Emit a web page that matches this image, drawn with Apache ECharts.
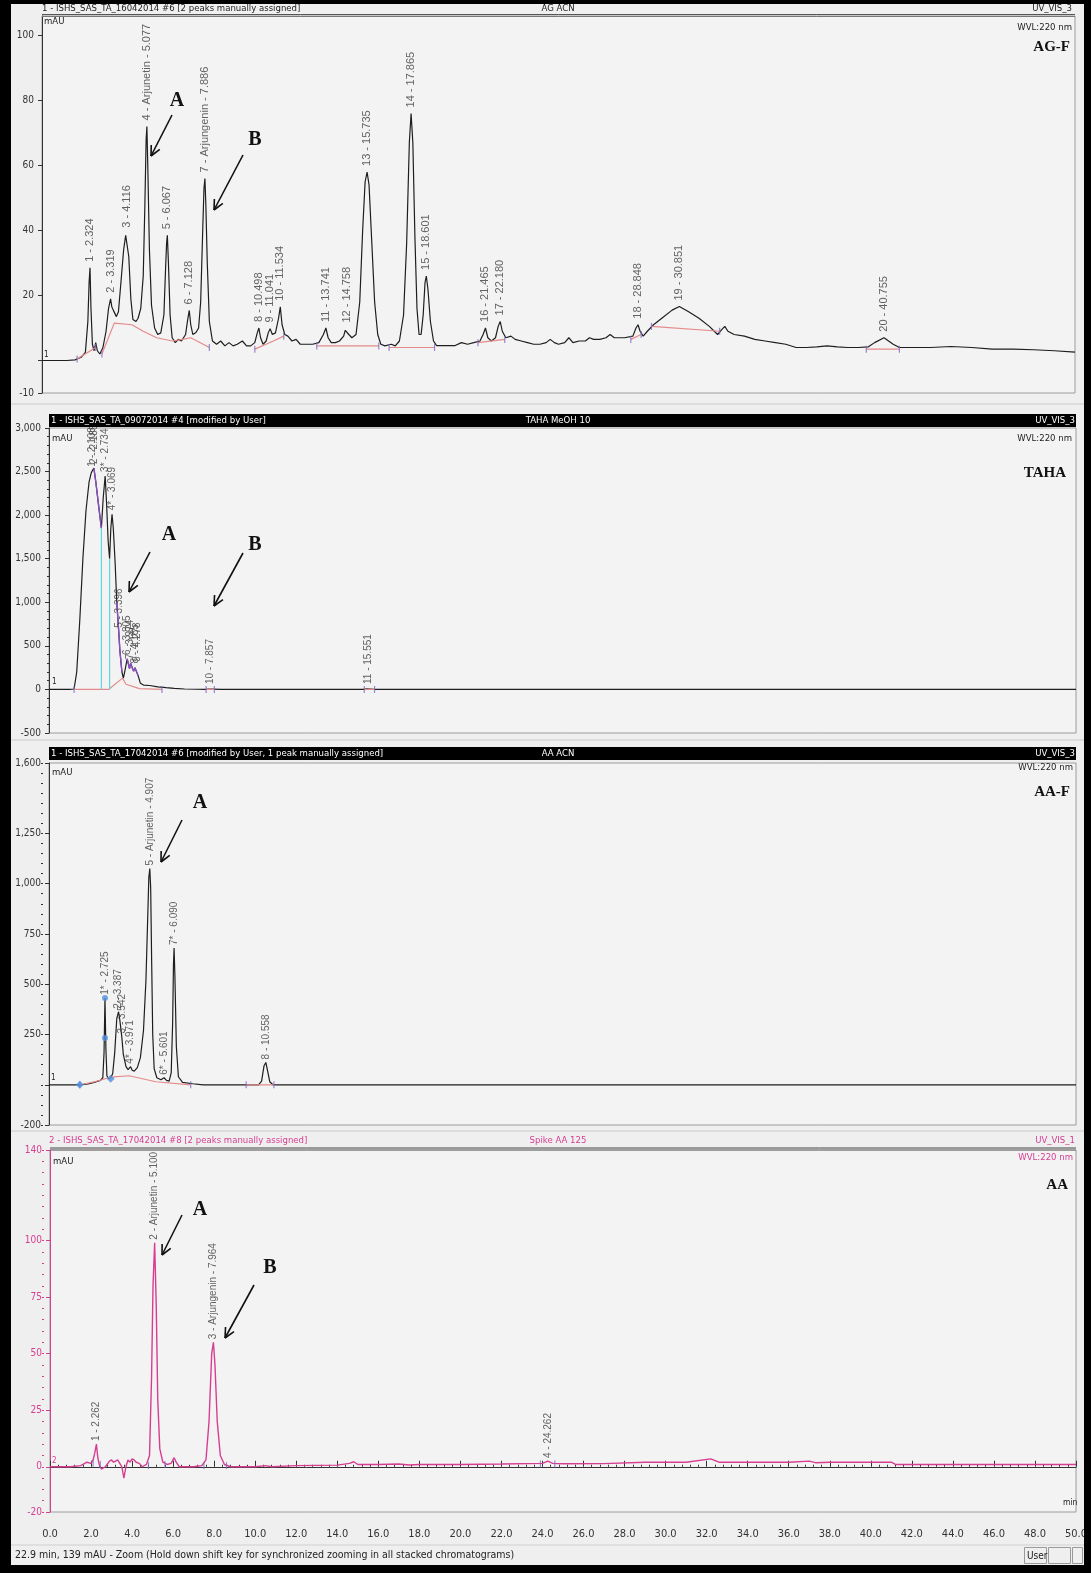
<!DOCTYPE html>
<html>
<head>
<meta charset="utf-8">
<script src="https://cdn.jsdelivr.net/npm/echarts@6/dist/echarts.min.js"></script>
<style>
  html, body { margin: 0; padding: 0; background: #ffffff; }
  #chart { width: 1091px; height: 1573px; }
</style>
</head>
<body>
<div id="chart"></div>
<script>
// ---------- AG-F (AG ACN) ----------
const agfPeakTimes   = [2.324, 3.319, 4.116, 5.077, 6.067, 7.128, 7.886, 10.498, 11.041, 11.534, 13.741, 14.758, 15.735, 17.865, 18.601, 21.465, 22.180, 28.848, 30.851, 40.755];
const agfPeakHeights = [28.5, 19, 39, 72, 38.5, 15.4, 56, 10, 9.8, 16.5, 10, 9.8, 58, 76, 26, 10, 12, 11, 16.6, 7];
const agfPeakNames   = ['1 - 2.324', '2 - 3.319', '3 - 4.116', '4 - Arjunetin - 5.077', '5 - 6.067', '6 - 7.128', '7 - Arjungenin - 7.886', '8 - 10.498', '9 - 11.041', '10 - 11.534', '11 - 13.741', '12 - 14.758', '13 - 15.735', '14 - 17.865', '15 - 18.601', '16 - 21.465', '17 - 22.180', '18 - 28.848', '19 - 30.851', '20 - 40.755'];
const agfTrace = [[0,0],[1.2,0],[1.6,0.2],[1.9,1],[2.1,2.5],[2.22,12],[2.28,24],[2.37,16],[2.44,5],[2.52,3],[2.6,5.5],[2.68,3],[2.8,2],[2.95,4],[3.1,9],[3.22,16],[3.38,16.5],[3.45,15.5],[3.52,16],[3.6,13.5],[3.7,15],[3.82,24],[3.95,34],[4.05,38.5],[4.2,32],[4.3,19],[4.4,12.6],[4.55,12],[4.65,13],[4.78,16],[4.9,26],[4.98,48],[5.04,68],[5.12,60],[5.2,34],[5.3,17],[5.45,10],[5.6,8],[5.75,8.5],[5.9,14],[5.98,28],[6.03,36],[6.12,30],[6.2,14],[6.3,7],[6.45,5.5],[6.6,6.5],[6.75,6],[6.95,8],[7.05,12.5],[7.2,11],[7.3,8],[7.45,8.6],[7.58,10],[7.68,18],[7.77,38],[7.84,53],[7.93,48],[8.0,30],[8.1,12],[8.25,6],[8.45,5],[8.65,6],[8.85,4.5],[9.05,5.5],[9.25,4.5],[9.45,5],[9.7,6],[9.9,4.5],[10.1,4.5],[10.3,5.5],[10.42,8.5],[10.58,7],[10.7,5],[10.85,6],[10.95,8.5],[11.15,8],[11.3,8.5],[11.45,13],[11.62,11],[11.75,8],[11.9,7.5],[12.1,6],[12.3,6.5],[12.5,5],[12.8,5],[13.1,5],[13.4,5.5],[13.62,8],[13.85,7],[14.0,5.5],[14.2,5.5],[14.4,6],[14.6,7.5],[14.68,9.3],[14.85,8],[15.0,7],[15.2,8],[15.38,18],[15.52,40],[15.64,55],[15.83,54],[15.95,38],[16.1,18],[16.25,8],[16.4,5],[16.6,4.5],[16.9,5],[17.1,4.5],[17.3,6],[17.5,14],[17.65,36],[17.78,67],[17.95,67],[18.05,38],[18.15,16],[18.25,8],[18.35,8],[18.45,14],[18.54,24],[18.68,22],[18.8,12],[18.95,6],[19.1,4.6],[19.4,4.6],[19.7,4.6],[20.0,4.6],[20.3,5.5],[20.6,5],[20.9,5.5],[21.2,6],[21.35,8],[21.58,7],[21.75,6],[21.95,7],[22.08,10.5],[22.28,9],[22.45,7],[22.7,7.5],[22.9,6.5],[23.2,6],[23.5,5.5],[23.8,5],[24.1,5],[24.4,5.5],[24.6,6.5],[24.8,5.5],[25.0,5],[25.3,5.5],[25.5,7],[25.7,5.5],[26.0,6],[26.3,6],[26.5,7],[26.7,6.5],[27.0,6.5],[27.3,7],[27.5,8],[27.7,7],[28.2,7],[28.6,7.5],[28.75,10],[28.95,9],[29.1,7.5],[29.3,9],[29.6,11],[30.0,13],[30.5,15.5],[31.3,15],[31.8,13],[32.3,10.5],[32.7,8],[32.9,9.5],[33.05,10.5],[33.2,9],[33.5,8],[34.0,7.5],[34.5,6.5],[35.0,6],[35.5,5.5],[36.0,5],[36.5,4],[37.0,4],[37.5,4.2],[38.0,4.5],[38.5,4.2],[39.0,4],[39.5,4],[40.0,4.2],[40.3,5.5],[41.2,5],[41.5,4],[42.0,4],[43.0,4],[44.0,4.3],[45.0,4],[46.0,3.5],[47.0,3.5],[48.0,3.3],[49.0,3],[50.0,2.6]];
const agfBaselines = [
  [[1.7,0.5],[2.6,4]],
  [[2.9,2],[3.5,11.5],[4.35,11],[4.9,9],[5.55,7],[6.3,6],[6.8,6.5],[7.2,7],[8.1,4]],
  [[10.3,3.5],[11.2,6],[11.7,7.5]],
  [[13.3,4.5],[14.1,4.5],[16.3,4.5]],
  [[16.8,4],[18.2,4],[19.0,4]],
  [[21.1,5.5],[22.4,6.5]],
  [[28.5,6.5],[29.0,8]],
  [[29.5,10.5],[32.8,9]],
  [[39.9,3.5],[41.5,3.5]]
];

// ---------- TAHA (TAHA MeOH 10) ----------
const tahaPeakTimes   = [2.108, 2.185, 2.734, 3.069, 3.396, 3.805, 3.974, 4.185, 4.278, 7.857, 15.551];
const tahaPeakHeights = [2510, 2540, 2450, 2010, 660, 350, 300, 250, 270, 15, 16];
const tahaPeakNames   = ['1 - 2.108', '2 - 2.185', '3* - 2.734', '4* - 3.069', '5 - 3.396', '6 - 3.805', '7 - 3.974', '8 - 4.185', '9 - 4.278', '10 - 7.857', '11 - 15.551'];
const tahaTrace = [[0,0],[1.0,0],[1.22,5],[1.35,200],[1.5,800],[1.65,1500],[1.8,2050],[1.95,2380],[2.05,2480],[2.28,2380],[2.42,2100],[2.55,1850],[2.64,2200],[2.8,2150],[2.88,1700],[2.95,1500],[3.01,1850],[3.13,1850],[3.22,1450],[3.3,1000],[3.45,450],[3.55,200],[3.62,130],[3.7,220],[3.86,300],[3.92,240],[4.05,250],[4.12,210],[4.35,150],[4.45,70],[4.6,50],[4.9,45],[5.3,30],[5.7,20],[6.1,12],[6.6,5],[7.2,2],[7.6,0],[7.78,4],[7.95,3],[8.4,0],[15.3,0],[15.46,6],[15.66,5],[15.85,0],[50,0]];
const tahaBaselines = [
  [[1.22,0],[2.9,0],[3.58,130],[3.75,60],[4.4,10],[5.5,0]],
  [[7.65,0],[8.05,0]],
  [[15.35,0],[15.85,0]]
];
const tahaDropLines = [
  [[2.55,0],[2.55,1850]],
  [[2.95,0],[2.95,1500]]
];
// fitted outline drawn over the falling edges of the main cluster
const tahaOutline = [
  [[2.185,2540],[2.28,2380],[2.42,2100],[2.55,1850]],
  [[3.3,1000],[3.396,660],[3.45,450],[3.55,200]],
  [[3.805,350],[3.86,300],[3.92,240],[3.974,300],[4.05,250],[4.12,210],[4.185,250],[4.278,270],[4.35,150]]
];

// ---------- AA-F (AA ACN) ----------
const aafPeakTimes   = [2.725, 3.387, 3.542, 3.971, 4.907, 5.601, 6.090, 10.558];
const aafPeakHeights = [432, 363, 240, 90, 1075, 35, 680, 111];
const aafPeakNames   = ['1* - 2.725', '2 - 3.387', '3 - 3.542', '4* - 3.971', '5 - Arjunetin - 4.907', '6* - 5.601', '7* - 6.090', '8 - 10.558'];
const aafTrace = [[0,0],[1.5,0],[1.9,4],[2.2,12],[2.5,22],[2.62,35],[2.68,160],[2.77,180],[2.82,45],[2.9,30],[3.0,35],[3.1,55],[3.2,160],[3.3,330],[3.45,320],[3.62,150],[3.75,90],[3.85,75],[4.05,72],[4.15,68],[4.3,85],[4.45,135],[4.6,270],[4.72,520],[4.8,810],[4.86,1030],[4.95,980],[5.0,600],[5.05,250],[5.12,80],[5.25,35],[5.45,25],[5.72,22],[5.85,18],[5.95,60],[6.02,310],[6.06,600],[6.13,540],[6.2,190],[6.3,40],[6.5,12],[7.0,5],[7.5,0],[10.2,0],[10.35,18],[10.47,95],[10.64,70],[10.75,15],[10.9,0],[50,0]];
const aafBaselines = [
  [[1.5,0],[2.2,14],[3.0,38],[3.9,45],[5.2,15],[6.9,0]],
  [[9.6,0],[10.95,0]]
];
const aafMarkerDiamonds = [[1.5,0],[3.0,30]];
const aafMarkerDots     = [[2.725,432],[2.725,232]];

// ---------- AA (Spike AA 125) ----------
const aaPeakTimes   = [2.262, 5.100, 7.964, 24.262];
const aaPeakHeights = [10, 99, 55, 2.5];
const aaPeakNames   = ['1 - 2.262', '2 - Arjunetin - 5.100', '3 - Arjungenin - 7.964', '4 - 24.262'];
const aaTrace = [[0,0],[1.0,0],[1.5,0.5],[1.8,2],[2.0,1.5],[2.1,3],[2.18,6],[2.33,4],[2.4,1],[2.5,-1],[2.7,0],[2.9,2.5],[3.0,3],[3.1,2],[3.2,2.5],[3.3,3],[3.4,1.5],[3.5,0],[3.6,-5],[3.7,0],[3.8,3],[3.9,2],[4.0,3.5],[4.1,3],[4.2,2],[4.35,1.5],[4.5,0],[4.7,1],[4.85,5],[4.95,40],[5.02,80],[5.18,70],[5.25,30],[5.35,8],[5.5,2],[5.7,1],[5.9,1.5],[6.05,4],[6.15,2],[6.3,0],[7.0,0],[7.4,0.5],[7.6,3],[7.75,20],[7.88,50],[8.04,45],[8.15,20],[8.3,5],[8.5,1],[8.8,0],[10.0,0],[10.5,0.5],[10.8,0],[12.0,0.5],[14.0,0.7],[14.6,1.5],[14.8,2.2],[15.0,1],[16.0,1],[17.0,1.2],[17.5,0.8],[18.0,1],[20.0,1],[22.0,1.2],[24.0,1.5],[24.5,1.5],[25.0,1.3],[27.0,1.4],[29.0,2],[31.0,2],[32.2,3.5],[32.6,2],[34.0,2],[36.0,2],[37.0,2.5],[37.3,1.8],[38.0,2],[40.0,2],[41.0,2],[41.2,1],[44.0,1],[47.0,1],[50.0,1]];
const aaBaselines = [
  [[2.1,1.5],[2.45,1]],
  [[4.8,0.5],[5.6,1]],
  [[7.5,0.5],[8.6,0.5]],
  [[23.9,1.2],[24.6,1.2]]
];

// ---------- axis tick labels ----------
const agfYLabels  = [-10, 20, 40, 60, 80, 100];
const agfYTicks   = [-10, 0, 20, 40, 60, 80, 100];
const aafYLabels  = [-200, 250, 500, 750, 1000, 1250, 1600];
const aafYTicks   = [-200, 0, 250, 500, 750, 1000, 1250, 1600];
const aaYLabels   = [-20, 0, 25, 50, 75, 100, 140];
const timeMin = 0, timeMax = 50, timeStep = 2;

// ---------- helpers ----------
const NARROW = "'Liberation Sans Narrow','Arial Narrow','DejaVu Sans Condensed',sans-serif";
const SANS = "'Liberation Sans',Arial,sans-serif";
const SERIF = "'Liberation Serif','Times New Roman',serif";
const PINK = '#d63e92';
const INK = '#1e1e1e';
const BASE_RED = '#e58a8a';
const MARK = '#7d6cc4';

function mergeTrace(points, times, heights) {
  return points.concat(times.map((t, i) => [t, heights[i]])).sort((a, b) => a[0] - b[0]);
}
function fmtNum(v) { return Number(v).toLocaleString('en-US'); }

const series = [];
function addTrace(xi, yi, data, color, width) {
  series.push({ type: 'line', xAxisIndex: xi, yAxisIndex: yi, data: data, symbol: 'none',
    lineStyle: { color: color, width: width }, z: 3, animation: false, silent: true });
}
function addSegments(xi, yi, segs, color, width, z) {
  segs.forEach(s => series.push({ type: 'line', xAxisIndex: xi, yAxisIndex: yi, data: s, symbol: 'none',
    lineStyle: { color: color, width: width }, z: z || 4, animation: false, silent: true }));
}
// small delimiter ticks at both ends of each integration baseline
function addDelimiters(xi, yi, segs) {
  const pts = [];
  segs.forEach(s => { pts.push(s[0]); pts.push(s[s.length - 1]); });
  series.push({ type: 'scatter', xAxisIndex: xi, yAxisIndex: yi, symbol: 'rect', symbolSize: [1.2, 7],
    data: pts, itemStyle: { color: MARK }, z: 5, silent: true, animation: false });
}
function addPeakLabels(xi, yi, times, heights, names, dist, size) {
  series.push({ type: 'scatter', xAxisIndex: xi, yAxisIndex: yi, symbolSize: 0.1,
    itemStyle: { color: 'rgba(0,0,0,0)' }, silent: true, z: 5, animation: false,
    data: times.map((t, i) => [t, heights[i], names[i]]),
    label: { show: true, position: 'top', distance: dist, rotate: 90, align: 'left', verticalAlign: 'middle',
      formatter: p => p.data[2], fontSize: size, fontFamily: SANS, color: '#3c3c3c' } });
}

// grids (pixel placement of the four stacked chromatograms)
const grids = [
  { left: 42, top: 16,   width: 1033, height: 377 },
  { left: 49, top: 428,  width: 1027, height: 305 },
  { left: 49, top: 763,  width: 1027, height: 362 },
  { left: 50, top: 1150, width: 1026, height: 362 }
].map(g => Object.assign({ show: true, backgroundColor: '#f3f3f3', borderColor: '#9c9c9c', borderWidth: 1 }, g));

const xAxes = [0, 1, 2, 3].map(i => ({
  type: 'value', gridIndex: i, min: timeMin, max: timeMax, show: i === 3,
  interval: timeStep, offset: 8,
  axisLine: { show: true, lineStyle: { color: '#333', width: 1 } },
  axisTick: { show: true, inside: true, length: 6, lineStyle: { color: '#333' } },
  minorTick: { show: true, splitNumber: 5, length: 2, lineStyle: { color: '#333' } },
  axisLabel: { show: true, formatter: v => v.toFixed(1), fontSize: 11, fontFamily: NARROW, color: '#333', margin: 9,
    showMinLabel: true, showMaxLabel: true },
  splitLine: { show: false }
}));

function majorY(gi, min, max, ticks, labels, color) {
  return {
    type: 'value', gridIndex: gi, min: min, max: max, offset: 6, position: 'left',
    axisLine: { show: true, lineStyle: { color: color, width: 1 } },
    axisTick: { show: true, length: 4, customValues: ticks, lineStyle: { color: color } },
    axisLabel: { show: true, customValues: labels, formatter: fmtNum, fontSize: 10, fontFamily: NARROW, color: color, margin: 2,
      showMinLabel: true, showMaxLabel: true },
    splitLine: { show: false }
  };
}
function minorY(gi, min, max, step, color) {
  return {
    type: 'value', gridIndex: gi, min: min, max: max, interval: step, offset: 6, position: 'left',
    axisLine: { show: false }, axisLabel: { show: false }, splitLine: { show: false },
    axisTick: { show: true, length: 2, lineStyle: { color: color } }
  };
}

const yAxes = [
  majorY(0, -10, 106, agfYTicks, agfYLabels, '#333'),
  {
    type: 'value', gridIndex: 1, min: -500, max: 3000, interval: 500, offset: 6, position: 'left',
    axisLine: { show: true, lineStyle: { color: '#333' } },
    axisTick: { show: true, length: 4, lineStyle: { color: '#333' } },
    minorTick: { show: true, splitNumber: 5, length: 2, lineStyle: { color: '#333' } },
    axisLabel: { formatter: fmtNum, fontSize: 10, fontFamily: NARROW, color: '#333', margin: 2, showMinLabel: true, showMaxLabel: true },
    splitLine: { show: false }
  },
  majorY(2, -200, 1600, aafYTicks, aafYLabels, '#333'),
  minorY(2, -200, 1600, 50, '#333'),
  majorY(3, -20, 140, aaYLabels, aaYLabels, PINK),
  minorY(3, -20, 140, 5, PINK)
];

// AG-F
addTrace(0, 0, mergeTrace(agfTrace, agfPeakTimes, agfPeakHeights), INK, 1.2);
addSegments(0, 0, agfBaselines, BASE_RED, 1.2);
addDelimiters(0, 0, agfBaselines);
addPeakLabels(0, 0, agfPeakTimes, agfPeakHeights, agfPeakNames, 6, 11);
// TAHA
addTrace(1, 1, mergeTrace(tahaTrace, tahaPeakTimes, tahaPeakHeights), INK, 1.2);
addSegments(1, 1, tahaOutline, '#8a4fc0', 1.4, 4);
addSegments(1, 1, tahaBaselines, BASE_RED, 1.2);
addSegments(1, 1, tahaDropLines, '#62d6df', 1.2);
addDelimiters(1, 1, tahaBaselines);
addPeakLabels(1, 1, tahaPeakTimes, tahaPeakHeights, tahaPeakNames, 4, 10);
// AA-F
addTrace(2, 2, mergeTrace(aafTrace, aafPeakTimes, aafPeakHeights), INK, 1.2);
addSegments(2, 2, aafBaselines, BASE_RED, 1.2);
addDelimiters(2, 2, aafBaselines);
addPeakLabels(2, 2, aafPeakTimes, aafPeakHeights, aafPeakNames, 3, 10);
series.push({ type: 'scatter', xAxisIndex: 2, yAxisIndex: 2, symbol: 'diamond', symbolSize: 8, data: aafMarkerDiamonds,
  itemStyle: { color: '#4f8fdc' }, z: 6, silent: true, animation: false });
series.push({ type: 'scatter', xAxisIndex: 2, yAxisIndex: 2, symbol: 'circle', symbolSize: 6, data: aafMarkerDots,
  itemStyle: { color: '#4f8fdc' }, z: 6, silent: true, animation: false });
// AA
addTrace(3, 4, mergeTrace(aaTrace, aaPeakTimes, aaPeakHeights), PINK, 1.4);
addDelimiters(3, 4, aaBaselines);
addPeakLabels(3, 4, aaPeakTimes, aaPeakHeights, aaPeakNames, 3, 10);

// ---------- drawn decorations: frame, header bars, captions, arrows ----------
const graphics = [];
function rect(x, y, w, h, fill, stroke) {
  graphics.push({ type: 'rect', shape: { x: x, y: y, width: w, height: h }, silent: true,
    style: { fill: fill || 'none', stroke: stroke || null, lineWidth: 1 }, z: 10 });
}
function line(x1, y1, x2, y2, color, w) {
  graphics.push({ type: 'line', shape: { x1: x1, y1: y1, x2: x2, y2: y2 }, silent: true,
    style: { stroke: color, lineWidth: w || 1 }, z: 10 });
}
function text(x, y, str, opts) {
  graphics.push({ type: 'text', x: x, y: y, silent: true, z: 11,
    style: Object.assign({ text: str, fill: '#222', fontSize: 9.5, fontFamily: NARROW, textAlign: 'left', textVerticalAlign: 'middle' }, opts || {}) });
}
function arrow(x1, y1, x2, y2) {
  line(x1, y1, x2, y2, '#111', 1.6);
  const a = Math.atan2(y2 - y1, x2 - x1), L = 11, s = 0.45;
  line(x2, y2, x2 - L * Math.cos(a - s), y2 - L * Math.sin(a - s), '#111', 1.6);
  line(x2, y2, x2 - L * Math.cos(a + s), y2 - L * Math.sin(a + s), '#111', 1.6);
}
function letter(x, y, str) {
  text(x, y, str, { fontFamily: SERIF, fontWeight: 'bold', fontSize: 20, fill: '#111', textAlign: 'center' });
}

// outer black frame
rect(0, 0, 1091, 4, '#000');
rect(0, 0, 11, 1573, '#000');
rect(1084, 0, 7, 1573, '#000');
rect(0, 1565, 1091, 8, '#000');

// panel separators
line(11, 404, 1084, 404, '#c9c9c9', 1);
line(11, 740, 1084, 740, '#c9c9c9', 1);
line(11, 1131, 1084, 1131, '#c9c9c9', 1);

// panel 1 header (plain)
text(42, 9, '1 - ISHS_SAS_TA_16042014 #6 [2 peaks manually assigned]');
text(558, 9, 'AG ACN', { textAlign: 'center' });
text(1072, 9, 'UV_VIS_3', { textAlign: 'right' });
line(42, 14.5, 1075, 14.5, '#555', 1);
line(42, 16.5, 1075, 16.5, '#777', 1);
// panel 2 header (black bar)
rect(49, 414, 1027, 13, '#000');
text(51, 421, '1 - ISHS_SAS_TA_09072014 #4 [modified by User]', { fill: '#fff' });
text(558, 421, 'TAHA MeOH 10', { fill: '#fff', textAlign: 'center' });
text(1075, 421, 'UV_VIS_3', { fill: '#fff', textAlign: 'right' });
// panel 3 header (black bar)
rect(49, 747, 1027, 13, '#000');
text(51, 754, '1 - ISHS_SAS_TA_17042014 #6 [modified by User, 1 peak manually assigned]', { fill: '#fff' });
text(558, 754, 'AA ACN', { fill: '#fff', textAlign: 'center' });
text(1075, 754, 'UV_VIS_3', { fill: '#fff', textAlign: 'right' });
// panel 4 header (pink)
text(49, 1141, '2 - ISHS_SAS_TA_17042014 #8 [2 peaks manually assigned]', { fill: PINK });
text(558, 1141, 'Spike AA 125', { fill: PINK, textAlign: 'center' });
text(1075, 1141, 'UV_VIS_1', { fill: PINK, textAlign: 'right' });
line(50, 1148, 1076, 1148, '#444', 1);
line(50, 1150, 1076, 1150, '#777', 1);

// units, wavelength, sample names, channel numbers
text(44, 22, 'mAU');  text(52, 439, 'mAU');  text(52, 773, 'mAU');  text(53, 1162, 'mAU');
text(1072, 28, 'WVL:220 nm', { textAlign: 'right' });
text(1072, 439, 'WVL:220 nm', { textAlign: 'right' });
text(1073, 768, 'WVL:220 nm', { textAlign: 'right' });
text(1073, 1158, 'WVL:220 nm', { textAlign: 'right', fill: PINK });
const capStyle = { fontFamily: SERIF, fontWeight: 'bold', fontSize: 15, fill: '#111', textAlign: 'right' };
text(1070, 47, 'AG-F', capStyle);
text(1066, 473, 'TAHA', capStyle);
text(1070, 792, 'AA-F', capStyle);
text(1068, 1185, 'AA', capStyle);
text(44, 355, '1', { fontSize: 8 });
text(52, 682, '1', { fontSize: 8 });
text(51, 1078, '1', { fontSize: 8 });
text(52, 1461, '2', { fontSize: 8, fill: PINK });
text(1063, 1503, 'min', { fontSize: 8.5 });

// A / B markers
letter(177, 101, 'A'); arrow(172, 115, 151, 156);
letter(255, 140, 'B'); arrow(243, 155, 214, 210);
letter(169, 535, 'A'); arrow(150, 552, 129, 592);
letter(255, 545, 'B'); arrow(243, 553, 214, 606);
letter(200, 803, 'A'); arrow(182, 820, 161, 862);
letter(200, 1210, 'A'); arrow(182, 1215, 162, 1255);
letter(270, 1268, 'B'); arrow(254, 1285, 225, 1338);

// status bar
line(11, 1545, 1084, 1545, '#cfcfcf', 1);
text(15, 1555, '22.9 min, 139 mAU - Zoom (Hold down shift key for synchronized zooming in all stacked chromatograms)', { fontSize: 10.5, fill: '#222' });
rect(1024.5, 1547.5, 22, 16, 'none', '#9a9a9a');
text(1027, 1556, 'User', { fontSize: 10 });
rect(1048.5, 1547.5, 22, 16, 'none', '#9a9a9a');
rect(1072.5, 1547.5, 10, 16, 'none', '#9a9a9a');

const chart = echarts.init(document.getElementById('chart'), null, { renderer: 'canvas' });
chart.setOption({
  backgroundColor: '#efefef',
  animation: false,
  grid: grids,
  xAxis: xAxes,
  yAxis: yAxes,
  series: series,
  graphic: { elements: graphics }
});
</script>
</body>
</html>
